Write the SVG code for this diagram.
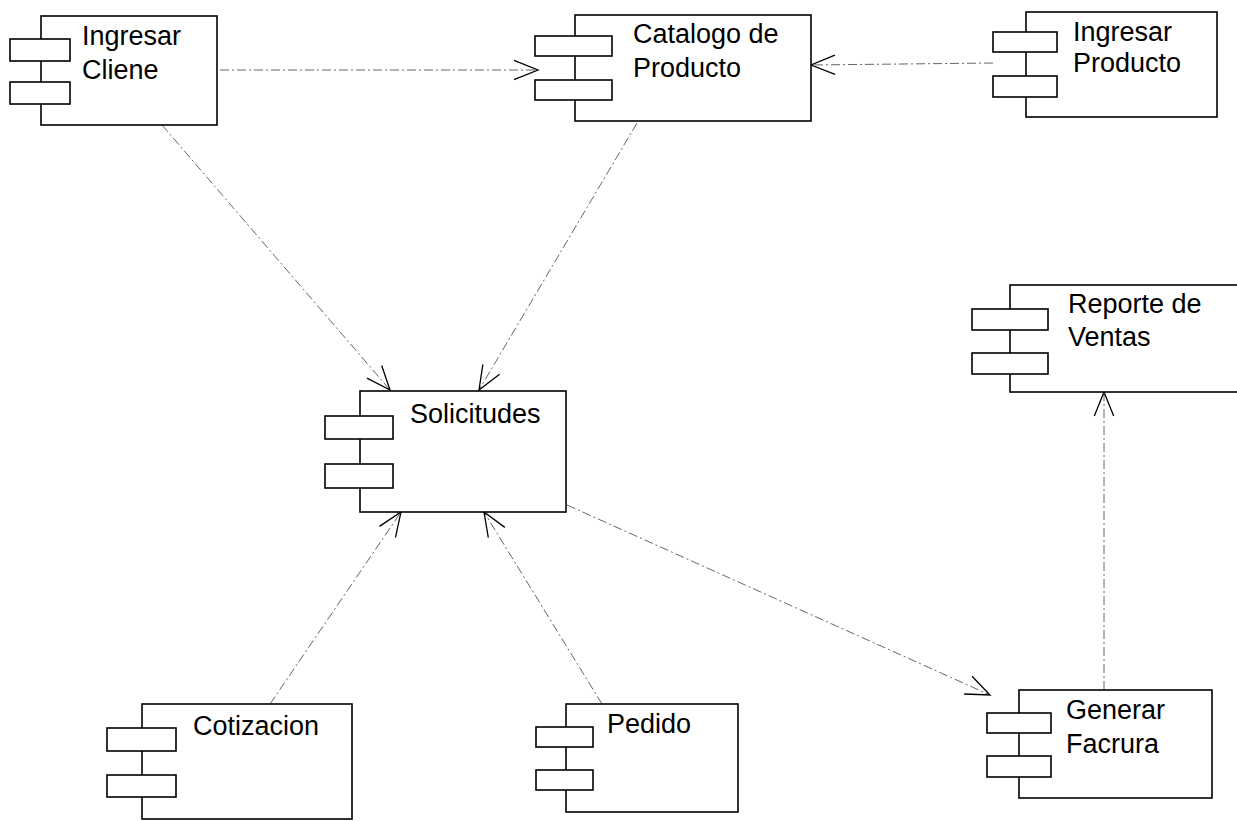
<svg xmlns="http://www.w3.org/2000/svg" width="1237" height="821" viewBox="0 0 1237 821">
<style>
.box{fill:#fff;stroke:#000;stroke-width:1.6}
.tab{fill:#fff;stroke:#000;stroke-width:1.6}
.lbl{font-family:"Liberation Sans",Arial,sans-serif;font-size:27px;fill:#000}
.dep{fill:none;stroke:#666;stroke-width:1;stroke-dasharray:9,3,2,3}
</style>
<defs>
<marker id="open" markerUnits="userSpaceOnUse" markerWidth="30" markerHeight="24" viewBox="-27 -12 30 24" refX="0" refY="0" orient="auto">
<path d="M-24,-9.7 L0,0 L-24,9.7" fill="none" stroke="#000" stroke-width="1.3"/>
</marker>
</defs>
<rect width="1237" height="821" fill="#fff"/>
<g id="connectors">
<line class="dep" x1="220" y1="70" x2="538" y2="70" marker-end="url(#open)"/>
<line class="dep" x1="993" y1="63" x2="811" y2="65" marker-end="url(#open)"/>
<line class="dep" x1="162" y1="125" x2="390" y2="390" marker-end="url(#open)"/>
<line class="dep" x1="637" y1="123" x2="479" y2="390" marker-end="url(#open)"/>
<line class="dep" x1="270" y1="704" x2="401" y2="512" marker-end="url(#open)"/>
<line class="dep" x1="602" y1="704" x2="484" y2="512" marker-end="url(#open)"/>
<line class="dep" x1="567" y1="505" x2="990" y2="695" marker-end="url(#open)"/>
<line class="dep" x1="1104" y1="690" x2="1104" y2="392" marker-end="url(#open)"/>
</g>
<g id="ingresar-cliene">
<rect class="box" x="41" y="16" width="176" height="109"/>
<rect class="tab" x="10" y="39" width="60" height="22"/>
<rect class="tab" x="10" y="82" width="60" height="22"/>
<text class="lbl" x="82" y="45">Ingresar</text>
<text class="lbl" x="82" y="79">Cliene</text>
</g>
<g id="catalogo-producto">
<rect class="box" x="575" y="15" width="236" height="106"/>
<rect class="tab" x="535" y="36" width="77" height="20"/>
<rect class="tab" x="535" y="80" width="77" height="20"/>
<text class="lbl" x="633" y="43">Catalogo de</text>
<text class="lbl" x="633" y="77">Producto</text>
</g>
<g id="ingresar-producto">
<rect class="box" x="1026" y="12" width="191" height="105"/>
<rect class="tab" x="993" y="32" width="64" height="20"/>
<rect class="tab" x="993" y="76" width="64" height="21"/>
<text class="lbl" x="1073" y="41">Ingresar</text>
<text class="lbl" x="1073" y="72">Producto</text>
</g>
<g id="reporte-ventas">
<rect class="box" x="1010" y="285" width="240" height="107"/>
<rect class="tab" x="972" y="309" width="76" height="21"/>
<rect class="tab" x="972" y="353" width="76" height="21"/>
<text class="lbl" x="1068" y="313">Reporte de</text>
<text class="lbl" x="1068" y="346">Ventas</text>
</g>
<g id="solicitudes">
<rect class="box" x="360" y="391" width="206" height="121"/>
<rect class="tab" x="325" y="416" width="68" height="23"/>
<rect class="tab" x="325" y="464" width="68" height="24"/>
<text class="lbl" x="410" y="423">Solicitudes</text>
</g>
<g id="cotizacion">
<rect class="box" x="142" y="704" width="210" height="115"/>
<rect class="tab" x="107" y="728" width="69" height="23"/>
<rect class="tab" x="107" y="775" width="69" height="22"/>
<text class="lbl" x="193" y="735">Cotizacion</text>
</g>
<g id="pedido">
<rect class="box" x="566" y="704" width="172" height="108"/>
<rect class="tab" x="536" y="727" width="57" height="20"/>
<rect class="tab" x="536" y="770" width="57" height="20"/>
<text class="lbl" x="607" y="733">Pedido</text>
</g>
<g id="generar-facrura">
<rect class="box" x="1019" y="690" width="193" height="108"/>
<rect class="tab" x="987" y="713" width="64" height="20"/>
<rect class="tab" x="987" y="756" width="64" height="21"/>
<text class="lbl" x="1066" y="719">Generar</text>
<text class="lbl" x="1066" y="753">Facrura</text>
</g>
</svg>
